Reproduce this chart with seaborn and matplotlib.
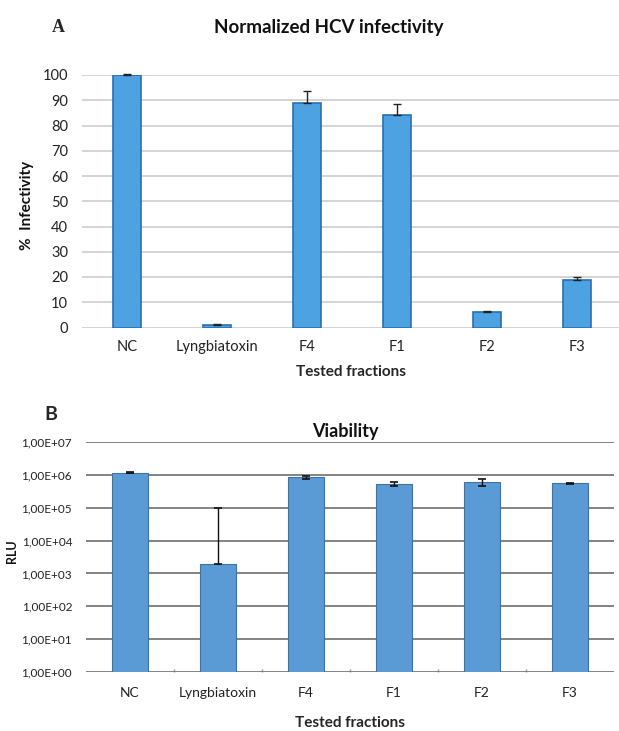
import numpy as np
import pandas as pd
import matplotlib
matplotlib.use("Agg")
import matplotlib.pyplot as plt
import seaborn as sns

categories = ["NC", "Lyngbiatoxin", "F4", "F1", "F2", "F3"]
infectivity = [100, 1.0, 89, 84, 6, 19]
infectivity_err = [0.3, 0.4, 4.5, 4.5, 0.5, 1.0]
viability = [1.15e6, 1.9e3, 8.5e5, 5.3e5, 6.0e5, 5.6e5]
viability_err_low = [0.4e5, 0, 0.9e5, 0.8e5, 1.5e5, 0.2e5]
viability_err_high = [0.5e5, 9.8e4, 0.9e5, 0.8e5, 1.5e5, 0.2e5]
a_ticks = list(range(0, 101, 10))
b_ticks = [1e0, 1e1, 1e2, 1e3, 1e4, 1e5, 1e6, 1e7]
b_ticklabels = ["1,00E+00", "1,00E+01", "1,00E+02", "1,00E+03",
                "1,00E+04", "1,00E+05", "1,00E+06", "1,00E+07"]

sns.set_theme(style="white")
plt.rcParams['font.family'] = ['Lato', 'DejaVu Sans']

W, H = 619, 731
fig = plt.figure(figsize=(W / 100, H / 100), dpi=100)

def ax_rect(l, r, t, b):
    return [l / W, 1 - b / H, (r - l) / W, (b - t) / H]

# ---------- Panel A ----------
axA = fig.add_axes(ax_rect(82, 619, 75, 327.5))
dfA = pd.DataFrame({"cat": categories, "val": infectivity})
sns.barplot(data=dfA, x="cat", y="val", ax=axA, color="#4DA2E2",
            edgecolor="#2A6FB0", linewidth=1.2, width=0.31, zorder=3,
            errorbar=None, saturation=1)
axA.errorbar(x=np.arange(len(categories)), y=infectivity,
             yerr=[np.zeros(len(categories)), infectivity_err],
             fmt="none", ecolor="#222222", elinewidth=1.0, capsize=3,
             capthick=1.0, zorder=4, clip_on=False)
axA.set_ylim(0, 100)
axA.set_xlim(-0.5, 5.47)
axA.set_yticks(a_ticks)
axA.yaxis.grid(True, color="#D4D4D4", linewidth=1.4)
axA.set_axisbelow(True)
for s in axA.spines.values():
    s.set_visible(False)
axA.tick_params(axis="both", length=0, labelsize=10.5, colors="#222222")
axA.tick_params(axis="y", pad=10)
axA.tick_params(axis="x", pad=9)
axA.set_xlabel("Tested fractions", fontsize=11, fontweight="bold", labelpad=8)
axA.set_ylabel("")
fig.text(27 / W, 1 - 205 / H, "%  Infectivity", rotation=90, ha="center",
         va="center", fontsize=11, fontweight="bold", color="#111111")
fig.text(329 / W, 1 - 28 / H, "Normalized HCV infectivity", ha="center",
         va="center", fontsize=13.5, fontweight="bold", color="#111111")
fig.text(58 / W, 1 - 27 / H, "A", ha="center", va="center", fontsize=13,
         fontweight="bold", family=["Liberation Serif", "DejaVu Serif"])

# ---------- Panel B ----------
axB = fig.add_axes(ax_rect(86, 614, 442, 672))
axB.set_yscale("log")
dfB = pd.DataFrame({"cat": categories, "val": viability})
sns.barplot(data=dfB, x="cat", y="val", ax=axB, color="#5B9BD5",
            edgecolor="#41719C", linewidth=0.8, width=0.41, zorder=3,
            errorbar=None, saturation=1)
axB.errorbar(x=np.arange(len(categories)), y=viability,
             yerr=[viability_err_low, viability_err_high],
             fmt="none", ecolor="#111111", elinewidth=1.0, capsize=3,
             capthick=1.2, zorder=4)
axB.set_ylim(1, 1e7)
axB.set_xlim(-0.5, 5.5)
axB.set_yticks(b_ticks)
axB.set_yticklabels(b_ticklabels)
axB.yaxis.set_minor_locator(matplotlib.ticker.NullLocator())
axB.yaxis.grid(True, color="#7A7A7A", linewidth=1.3)
axB.set_axisbelow(True)
for s in axB.spines.values():
    s.set_visible(False)
axB.tick_params(axis="both", length=0, labelsize=10, colors="#222222")
axB.tick_params(axis="y", labelsize=8.5, pad=10)
axB.tick_params(axis="x", pad=11)
axB.set_xticks(np.arange(0.5, 5, 1.0), minor=True)
axB.tick_params(axis="x", which="minor", length=2, color="#999999",
                direction="in", bottom=True)
axB.set_xlabel("Tested fractions", fontsize=11, fontweight="bold", labelpad=12)
axB.set_ylabel("")
fig.text(12 / W, 1 - 551 / H, "RLU", rotation=90, ha="center", va="center",
         fontsize=9, fontweight="bold", color="#111111")
fig.text(345 / W, 1 - 432 / H, "Viability", ha="center", va="center",
         fontsize=13, fontweight="bold", color="#111111")
fig.text(51 / W, 1 - 414 / H, "B", ha="center", va="center", fontsize=14,
         fontweight="bold")

fig.savefig("out.png", dpi=100, facecolor="white")
